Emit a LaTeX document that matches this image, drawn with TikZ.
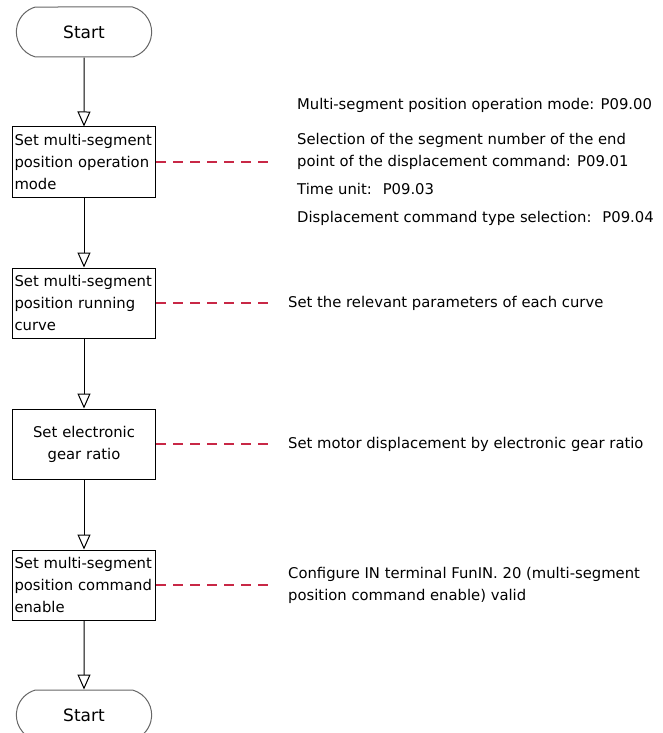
\documentclass[tikz,border=0pt]{standalone}
\usepackage{fontspec}
\setmainfont{DejaVu Sans}
\usetikzlibrary{arrows.meta,shapes.misc,positioning}
\definecolor{leader}{RGB}{200,40,70}

\begin{document}
\begin{tikzpicture}[x=1pt, y=-1pt, node distance=141pt, auto]

    \tikzstyle{terminal} = [rounded rectangle, rounded rectangle arc length=150, draw=black!60, line width=1pt, fill=white, minimum width=142pt, minimum height=50pt, font=\fontsize{17}{20}\selectfont]
    \tikzstyle{block} = [rectangle, draw, line width=1pt, text width=139pt, minimum height=70pt, inner sep=2pt, align=left, font=\fontsize{14.8}{22}\selectfont]
    \tikzstyle{note} = [inner xsep=16pt, align=left, font=\fontsize{14.8}{22}\selectfont]
    \tikzstyle{arrow} = [line width=1pt, -{Triangle[open, length=15pt, width=13pt]}]
    \tikzstyle{dashline} = [leader, line width=1.2pt, dash pattern=on 10pt off 7pt]

    \useasboundingbox (0,0) rectangle (663,733);

    \node[terminal] (start) at (84,32) {Start};
    \node[block, below of=start, node distance=130pt] (mode) {Set multi-segment\\position operation\\mode};
    \node[block, below of=mode] (curve) {Set multi-segment\\position running\\curve};
    \node[block, below of=curve, align=center] (gear) {Set electronic\\gear ratio};
    \node[block, below of=gear] (enable) {Set multi-segment\\position command\\enable};
    \node[terminal, below of=enable, node distance=130pt] (stop) {Start};

    \node[note, right=116pt of mode, inner xsep=25pt] (modenote) {Multi-segment position operation mode: P09.00\\[13pt]
        Selection of the segment number of the end\\
        point of the displacement command: P09.01\\[6pt]
        Time unit:~ P09.03\\[6pt]
        Displacement command type selection:~ P09.04};
    \node[note, right=116pt of curve] (curvenote) {Set the relevant parameters of each curve};
    \node[note, right=116pt of gear] (gearnote) {Set motor displacement by electronic gear ratio};
    \node[note, right=116pt of enable] (enablenote) {Configure IN terminal FunIN. 20 (multi-segment\\position command enable) valid};

    \draw[arrow] (start) -- (mode);
    \draw[arrow] (mode) -- (curve);
    \draw[arrow] (curve) -- (gear);
    \draw[arrow] (gear) -- (enable);
    \draw[arrow] (enable) -- (stop);

    \draw[dashline] (mode) -- (modenote);
    \draw[dashline] (curve) -- (curvenote);
    \draw[dashline] (gear) -- (gearnote);
    \draw[dashline] (enable) -- (enablenote);

\end{tikzpicture}
\end{document}
